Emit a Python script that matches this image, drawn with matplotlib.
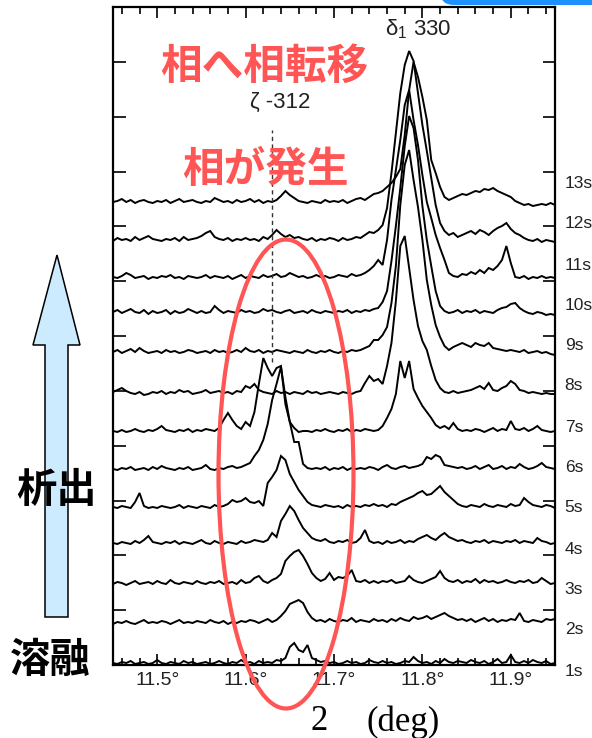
import numpy as np
import matplotlib
matplotlib.use('Agg')
import matplotlib.pyplot as plt
import matplotlib.transforms as mtransforms
from matplotlib.patches import Ellipse, Polygon, FancyBboxPatch
from matplotlib.ticker import MultipleLocator

# ---------------- data ----------------
two_theta = np.round(11.45 + 0.005 * np.arange(101), 3)   # deg, sampling grid

s1 = [2,1,3,2,4,1,2,3,1,2, 5,2,1,3,2,1,4,2,3,1, 2,3,1,2,4,2,1,3,2,5,
      2,3,1,4,2,3,2,5,4,7, 18,22,15,13,20,7,5,3,4,2, 3,1,2,4,2,3,1,2,5,3,
      2,4,2,3,1,2,4,3,8,4, 2,3,1,4,2,6,3,2,4,3, 2,5,3,2,4,1,3,6,2,3,
      10,3,2,4,2,5,3,2,4,1, 2]
s2 = [1,3,2,4,2,1,3,5,2,3, 2,4,3,1,3,5,2,3,2,4, 3,2,5,3,2,4,1,3,2,4,
      3,5,4,2,4,6,3,5,9,14, 21,23,25,22,13,7,4,5,3,6, 4,3,5,4,7,3,5,4,3,6,
      4,5,3,6,4,7,5,4,8,6, 7,9,6,8,10,12,9,7,5,6, 4,6,3,5,7,4,6,3,5,4,
      6,5,12,4,3,5,4,3,6,5, 6]
s3 = [2,4,3,1,3,5,2,3,4,2, 5,3,2,6,3,2,4,3,2,5, 3,2,4,3,5,2,3,4,2,6,
      3,4,8,10,5,3,6,8,12,25, 30,34,36,30,22,13,8,5,7,13, 6,9,8,10,16,5,4,6,3,5,
      3,5,4,6,3,4,5,10,6,4, 3,5,7,9,15,8,5,4,6,3, 5,4,7,3,6,4,5,3,4,6,
      4,3,5,4,6,3,4,8,5,2, 3]
s4 = [3,2,4,3,2,5,3,6,10,4, 3,2,4,3,5,2,4,3,2,4, 6,3,2,5,3,2,4,3,2,5,
      3,4,6,5,4,6,13,9,25,32, 40,35,26,18,13,8,6,5,7,4, 3,5,4,6,3,4,8,16,5,3,
      4,2,5,3,4,6,3,5,4,7, 9,11,8,6,10,13,9,7,5,6, 4,3,5,4,6,3,5,4,3,5,
      4,6,3,5,4,3,8,5,4,2, 3]
s5 = [3,2,4,3,2,8,17,4,2,3, 2,4,3,2,3,5,2,4,3,2, 4,3,2,5,3,4,6,10,8,9,
      12,8,7,9,4,27,33,40,54,50, 36,28,20,14,8,5,4,3,5,4, 3,4,2,5,3,4,3,5,4,6,
      4,5,3,6,5,8,10,12,14,17, 19,15,16,20,24,18,14,10,6,4, 3,5,4,3,6,4,3,5,4,3,
      6,4,5,12,8,5,4,3,5,4, 2]
s6 = [3,2,4,3,5,2,3,4,2,5, 3,6,4,3,2,4,3,5,2,3, 4,7,3,2,4,3,5,6,4,5,
      7,9,16,22,32,48,72,88,105,75, 50,30,30,8,4,3,4,3,5,2, 4,3,5,2,4,3,4,3,5,4,
      2,5,7,4,3,5,6,4,5,6, 8,15,13,17,15,7,6,5,4,5, 3,4,6,3,5,7,3,4,6,3,
      5,4,8,5,3,4,6,9,5,4, 3]
s7 = [3,2,4,2,3,5,3,2,4,3, 5,8,4,3,2,4,3,5,2,4, 3,5,4,3,6,14,21,14,8,5,
      12,8,22,50,76,66,58,66,68,30, 12,6,2,3,3,2,4,3,5,3, 2,4,3,5,2,4,3,5,4,3,
      4,8,16,25,40,73,56,73,45,36, 28,22,16,9,6,8,5,11,5,3, 4,3,5,4,2,4,6,3,5,4,
      13,5,4,6,3,5,8,4,3,2, 3]
s8 = [4,6,8,5,3,2,4,1,2,4, 3,5,2,4,3,6,4,5,2,3, 4,6,3,4,5,3,4,2,5,4,
      10,8,12,6,4,3,2,5,3,4, 2,4,3,2,5,3,4,2,3,4, 3,2,4,3,2,4,5,13,20,15,
      17,12,30,53,95,150,160,128,96,70, 55,46,30,16,8,4,3,5,3,4, 5,6,8,10,7,13,6,5,8,10,
      15,12,6,5,3,4,3,2,3,2, 2]
s9 = [3,5,2,4,6,3,7,4,2,3, 4,2,5,3,4,2,3,5,4,2, 3,4,2,5,3,4,2,3,5,3,
      7,4,3,5,2,4,3,5,4,3, 2,4,3,2,5,3,2,4,3,5, 3,2,4,3,5,4,5,7,9,15,
      15,20,28,52,89,150,190,205,175,148, 115,75,50,30,18,9,5,8,10,12, 10,8,12,10,9,12,7,6,5,4,
      5,4,3,5,2,3,4,2,3,1, 0]
s10 = [4,6,3,5,7,4,3,6,2,5, 3,4,6,2,5,3,4,7,5,3, 5,3,4,10,6,3,5,4,3,6,
       4,5,3,4,7,5,6,4,3,5, 6,3,4,5,3,6,4,3,5,4, 3,5,4,6,3,5,4,6,5,7,
       8,14,25,55,90,128,170,200,188,156, 110,76,50,25,10,5,3,4,6,3, 5,4,6,3,5,4,3,6,8,9,
       12,13,8,5,3,2,4,3,1,2, 1]
s11 = [3,2,4,7,5,2,3,4,1,3, 2,4,3,5,2,3,1,4,3,2, 3,5,2,4,3,2,4,1,3,5,
       2,4,3,2,5,3,4,6,3,4, 7,5,3,4,2,3,5,3,4,2, 3,5,4,3,6,4,5,7,10,14,
       20,15,40,80,110,140,175,190,160,135, 105,78,62,45,32,20,7,4,3,6, 5,8,6,10,7,12,10,14,20,34,
       17,3,2,4,1,3,2,4,2,3, 2]
s12 = [2,5,3,4,2,6,3,5,7,4, 3,2,4,3,5,2,6,3,4,5, 7,10,12,6,4,3,5,2,4,3,
       5,3,4,2,6,4,8,13,9,6, 8,5,6,4,3,5,2,4,3,5, 4,2,5,3,4,6,5,8,11,10,
       13,18,35,70,110,150,178,192,182,150, 118,92,65,38,20,12,8,10,6,8, 10,12,9,13,11,8,12,15,17,20,
       14,10,8,5,3,2,4,1,3,2, 1]
s13 = [3,4,6,3,5,2,4,5,3,2, 4,3,5,2,4,6,3,4,5,3, 2,4,3,7,5,3,4,2,5,3,
       4,6,3,5,2,4,3,5,9,14, 10,7,4,3,2,4,3,2,5,3, 4,3,5,2,4,6,7,5,8,11,
       12,14,18,22,28,36,70,115,143,128, 108,85,45,32,18,8,5,7,9,11, 10,12,14,13,16,15,17,14,12,10,
       8,4,2,0,1,-1,0,1,0,2, 0]

scans = [s1, s2, s3, s4, s5, s6, s7, s8, s9, s10, s11, s12, s13]
scan_labels = ['1s', '2s', '3s', '4s', '5s', '6s', '7s', '8s', '9s', '10s', '11s', '12s', '13s']
scan_offsets = [0, 40, 79, 119, 155, 193, 231, 269, 310, 349, 385, 422, 460]
label_y = [-7, 35, 75, 116, 157, 198, 238, 279, 320, 360, 400, 441, 481]
x_ticks = [11.5, 11.6, 11.7, 11.8, 11.9]
x_ticklabels = ['11.5°', '11.6°', '11.7°', '11.8°', '11.9°']
zeta_pos = 11.63
zeta_span = [303, 535]

# ---------------- figure ----------------
W, H = 592, 738
plt.rcParams['font.family'] = ['Liberation Sans', 'DejaVu Sans']
plt.rcParams['mathtext.fontset'] = 'custom'
plt.rcParams['mathtext.rm'] = 'Liberation Sans'
plt.rcParams['mathtext.it'] = 'Liberation Sans'
fig = plt.figure(figsize=(W / 100, H / 100), dpi=100)
fig.patch.set_facecolor('white')

ax = fig.add_axes([113 / W, 1 - 665 / H, 442 / W, 658 / H])
for off, s in zip(scan_offsets, scans):
    ax.plot(two_theta, off + np.array(s), color='black', lw=1.4, solid_joinstyle='miter')

ax.plot([zeta_pos, zeta_pos], zeta_span, color='#333333', lw=1.0, ls=(0, (3, 2.5)))

ax.set_xlim(11.45, 11.95)
ax.set_ylim(0, 658)
ax.set_xticks(x_ticks)
ax.set_xticklabels(x_ticklabels, color='#222222', fontsize=14)
ax.xaxis.set_minor_locator(MultipleLocator(0.02))
ax.set_yticks(np.arange(13) * 658 / 12)
ax.tick_params(which='both', direction='in', top=True, right=True,
               labelleft=False, labelright=False)
ax.tick_params(axis='x', which='major', length=8, width=1.2, pad=5)
ax.tick_params(axis='x', which='minor', length=5, width=1.2)
ax.tick_params(axis='y', length=9, width=1.2)
for sp in ax.spines.values():
    sp.set_linewidth(1.6)

trans = mtransforms.blended_transform_factory(ax.transAxes, ax.transData)
for lab, y in zip(scan_labels, label_y):
    ax.text(1.022, y, lab, transform=trans, ha='left', va='center',
            fontsize=12.5, color='#222222', clip_on=False)

# ---------------- overlay annotations (pixel coordinates) ----------------
ov = fig.add_axes([0, 0, 1, 1])
ov.set_xlim(0, W)
ov.set_ylim(H, 0)
ov.axis('off')
ov.patch.set_alpha(0)

ov.add_patch(FancyBboxPatch((440, -30), 180, 35,
                            boxstyle='round,pad=0,rounding_size=14',
                            fc='#1E90FF', ec='none'))

ov.text(418, 29, r'$\mathregular{\delta_{1}}$ 330', ha='center', va='center',
        fontsize=16, color='#222222')
ov.text(280, 102, 'ζ -312', ha='center', va='center', fontsize=16, color='#222222')

red = '#FF5555'
cjk = ['Noto Sans CJK JP', 'DejaVu Sans']
ov.text(264, 67, '相へ相転移', ha='center', va='center', fontsize=30,
        color=red, family=cjk, weight='bold')
ov.text(265, 170, '相が発生', ha='center', va='center', fontsize=30,
        color=red, family=cjk, weight='bold')

ov.add_patch(Ellipse((286, 474), 135, 469, fill=False, ec=red, lw=3))

arrow_pts = [(45, 617), (68, 617), (68, 345), (80, 345), (57, 255), (33, 345), (45, 345)]
ov.add_patch(Polygon(arrow_pts, closed=True, fc='#CDEBFF', ec='black', lw=1.1))

ov.text(56, 490, '析出', ha='center', va='center', fontsize=29,
        color='black', family=cjk, weight='bold')
ov.text(50, 660, '溶融', ha='center', va='center', fontsize=29,
        color='black', family=cjk, weight='bold')

serif = ['Liberation Serif', 'DejaVu Serif']
ov.text(319, 722, '2', ha='center', va='center', fontsize=25, family=serif, color='black')
ov.text(403, 722, '(deg)', ha='center', va='center', fontsize=25, family=serif, color='black')

fig.savefig('out.png', dpi=100, facecolor='white')
